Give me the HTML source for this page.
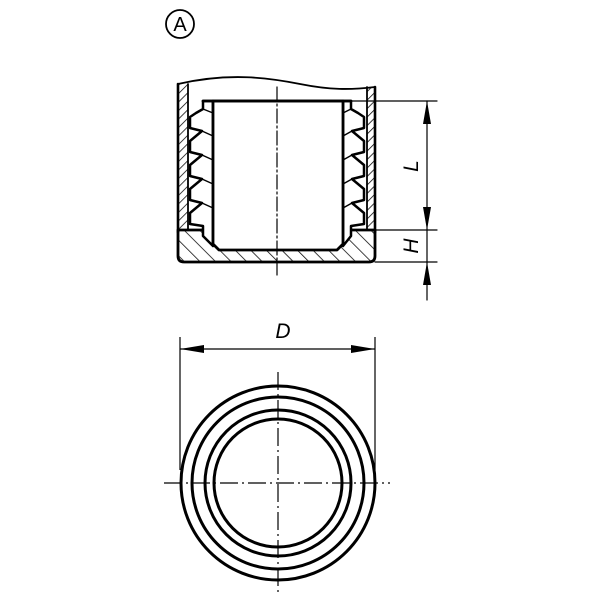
<!DOCTYPE html>
<html><head><style>html,body{margin:0;padding:0;background:#fff;}svg{display:block}</style></head>
<body>
<svg width="600" height="600" viewBox="0 0 600 600" xmlns="http://www.w3.org/2000/svg">
<defs>
<pattern id="h" patternUnits="userSpaceOnUse" width="6" height="6" patternTransform="rotate(45)">
<line x1="0" y1="0" x2="0" y2="6" stroke="#000" stroke-width="1.5"/>
</pattern>
<pattern id="h2" patternUnits="userSpaceOnUse" width="11" height="11" patternTransform="rotate(-45)">
<line x1="0" y1="0" x2="0" y2="11" stroke="#000" stroke-width="1.5"/>
</pattern>
</defs>
<circle cx="180" cy="24" r="14" fill="none" stroke="#000" stroke-width="1.8"/>
<text x="180" y="31" font-family="Liberation Sans, sans-serif" font-size="20" text-anchor="middle">A</text>

<g stroke="#000" fill="none" stroke-linecap="round" stroke-linejoin="round">
<path d="M178,84 L188,84 L188,230 L178,230 Z" fill="url(#h)" stroke="none"/>
<path d="M367,87 L375,87 L375,230 L367,230 Z" fill="url(#h)" stroke="none"/>
<line x1="178" y1="84" x2="178" y2="232" stroke-width="2.6"/>
<line x1="188" y1="84" x2="188" y2="230" stroke-width="1.8"/>
<line x1="375" y1="87" x2="375" y2="232" stroke-width="2.6"/>
<line x1="367" y1="87" x2="367" y2="230" stroke-width="1.8"/>
<path d="M178,84 C230,72 270,78 300,84 C330,90 350,90 375,87" stroke-width="1.8"/>

<path d="M178,230 L375,230 L375,256 Q375,262 369,262 L184,262 Q178,262 178,256 Z" fill="url(#h2)" stroke="#000" stroke-width="2.8"/>

<path d="M213,101 L203,101 L203,109 L196,113 L190,117 L190,128 L202,131 L190,141 L190,152 L202,155 L190,165 L190,176 L202,179 L190,189 L190,200 L202,203 L190,213 L190,224 L203,226 L203,236 L213,246 Z" fill="#fff" stroke-width="2.5"/>
<path d="M203,109 L213,113 M202,131 L213,136 M202,155 L213,160 M202,179 L213,184 M202,203 L213,208" stroke-width="1.4"/>
<path d="M343,101 L351,101 L351,109 L358,113 L364,117 L364,128 L352,131 L364,141 L364,152 L352,155 L364,165 L364,176 L352,179 L364,189 L364,200 L352,203 L364,213 L364,224 L351,226 L351,236 L343,246 Z" fill="#fff" stroke-width="2.5"/>
<path d="M351,109 L343,113 M352,131 L343,136 M352,155 L343,160 M352,179 L343,184 M352,203 L343,208" stroke-width="1.4"/>

<path d="M213,101 L343,101 L343,244 L337,250 L219,250 L213,244 Z" fill="#fff" stroke-width="2.8"/>
<line x1="203" y1="101" x2="351" y2="101" stroke-width="2.8"/>

<line x1="277" y1="87" x2="277" y2="275" stroke-width="1.2" stroke-dasharray="14,3,2,3"/>

<g stroke-width="1.2">
<line x1="351" y1="101" x2="437" y2="101"/>
<line x1="375" y1="230" x2="437" y2="230"/>
<line x1="375" y1="262" x2="437" y2="262"/>
<line x1="427" y1="101" x2="427" y2="300"/>
</g>
</g>
<g fill="#000">
<path d="M427,101 L423,124 L431,124 Z"/>
<path d="M427,230 L423,207 L431,207 Z"/>
<path d="M427,262 L423,285 L431,285 Z"/>
</g>
<text transform="translate(418,166) rotate(-90)" font-family="Liberation Sans, sans-serif" font-style="italic" font-size="21" text-anchor="middle">L</text>
<text transform="translate(418,246) rotate(-90)" font-family="Liberation Sans, sans-serif" font-style="italic" font-size="21" text-anchor="middle">H</text>

<g stroke="#000" fill="none">
<line x1="180" y1="337" x2="180" y2="470" stroke-width="1.2"/>
<line x1="375" y1="337" x2="375" y2="470" stroke-width="1.2"/>
<line x1="180" y1="349" x2="375" y2="349" stroke-width="1.2"/>
<circle cx="278" cy="483" r="97" stroke-width="3"/>
<circle cx="278" cy="483" r="86" stroke-width="3"/>
<circle cx="278" cy="483" r="73" stroke-width="3"/>
<circle cx="278" cy="483" r="64" stroke-width="3"/>
<line x1="164" y1="483" x2="390" y2="483" stroke-width="1.2" stroke-dasharray="18,4,2,4"/>
<line x1="278" y1="372" x2="278" y2="596" stroke-width="1.2" stroke-dasharray="18,4,2,4"/>
</g>
<g fill="#000">
<path d="M180,349 L204,345 L204,353 Z"/>
<path d="M375,349 L351,345 L351,353 Z"/>
</g>
<text x="283" y="338" font-family="Liberation Sans, sans-serif" font-style="italic" font-size="21" text-anchor="middle">D</text>
</svg>
</body></html>
